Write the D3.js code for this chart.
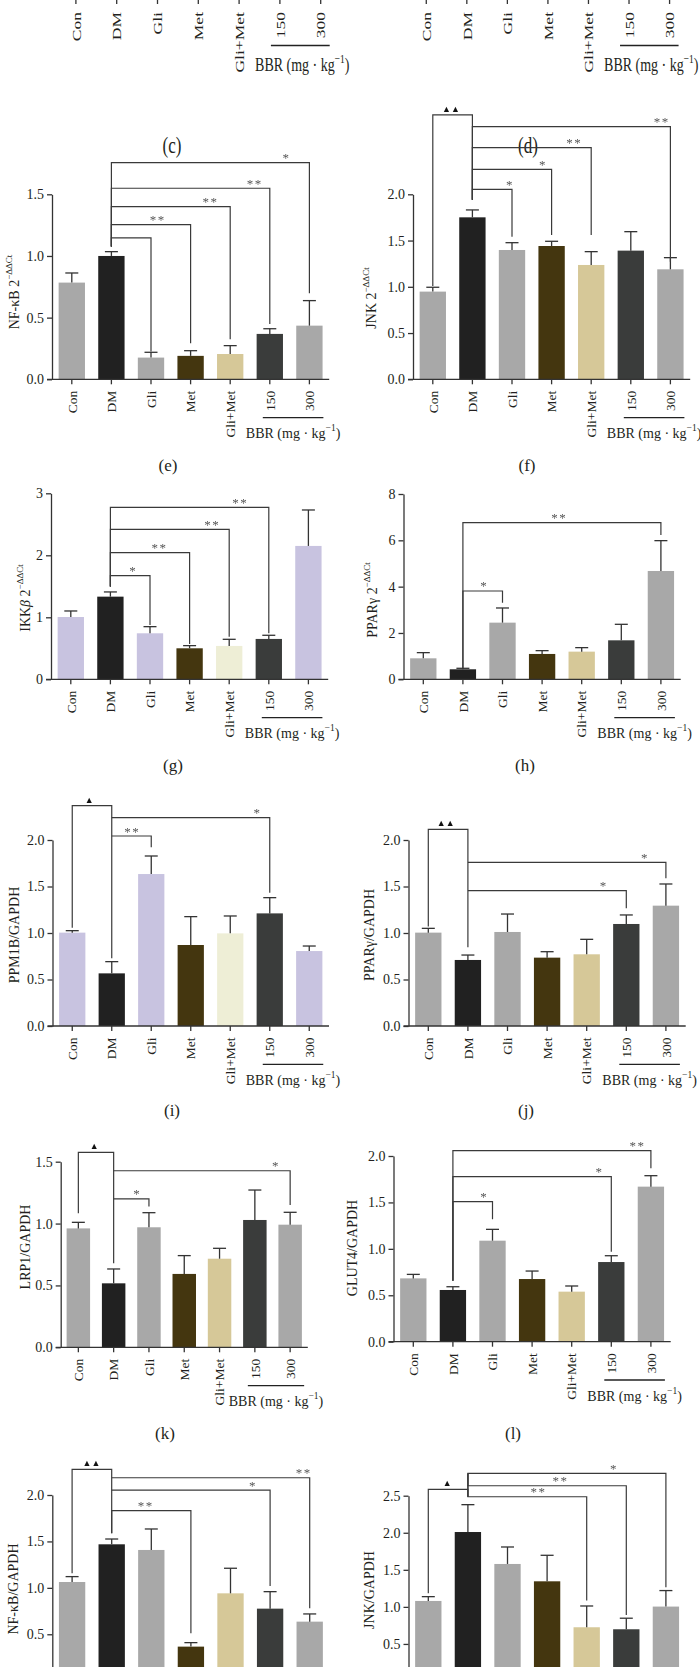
<!DOCTYPE html>
<html><head><meta charset="utf-8">
<script src="https://cdn.jsdelivr.net/npm/d3@7"></script>
<style>
body{margin:0;background:#fff}
svg{display:block}
text{font-family:"Liberation Serif","Times New Roman",serif;fill:#231f20}
</style>
</head><body>
<svg id="fig" width="700" height="1667"></svg>
<script>
// ---------------- DATA ----------------
const categories = ["Con","DM","Gli","Met","Gli+Met","150","300"];

// (e) NF-κB mRNA
const eMean = [0.784, 1.000, 0.176, 0.190, 0.205, 0.368, 0.435];
const eErr  = [0.078, 0.035, 0.043, 0.042, 0.068, 0.042, 0.203];
const eTicks = [0, 0.5, 1.0, 1.5];
// (f) JNK mRNA
const fMean = [0.948, 1.751, 1.398, 1.441, 1.236, 1.391, 1.189];
const fErr  = [0.047, 0.080, 0.079, 0.051, 0.144, 0.205, 0.126];
const fTicks = [0, 0.5, 1.0, 1.5, 2.0];
// (g) IKKβ mRNA
const gMean = [1.005, 1.333, 0.742, 0.500, 0.538, 0.651, 2.151];
const gErr  = [0.097, 0.076, 0.107, 0.043, 0.107, 0.059, 0.580];
const gTicks = [0, 1, 2, 3];
// (h) PPARγ mRNA
const hMean = [0.906, 0.432, 2.446, 1.094, 1.194, 1.683, 4.676];
const hErr  = [0.245, 0.043, 0.633, 0.143, 0.173, 0.691, 1.310];
const hTicks = [0, 2, 4, 6, 8];
// (i) PPM1B/GAPDH
const iMean = [1.004, 0.566, 1.634, 0.871, 0.996, 1.211, 0.806];
const iErr  = [0.021, 0.126, 0.194, 0.305, 0.187, 0.169, 0.054];
const iTicks = [0, 0.5, 1.0, 1.5, 2.0];
// (j) PPARγ/GAPDH
const jMean = [1.004, 0.710, 1.011, 0.735, 0.771, 1.097, 1.294];
const jErr  = [0.046, 0.053, 0.193, 0.064, 0.161, 0.097, 0.233];
const jTicks = [0, 0.5, 1.0, 1.5, 2.0];
// (k) LRP1/GAPDH
const kMean = [0.961, 0.517, 0.970, 0.593, 0.716, 1.029, 0.991];
const kErr  = [0.049, 0.116, 0.118, 0.148, 0.084, 0.242, 0.100];
const kTicks = [0, 0.5, 1.0, 1.5];
// (l) GLUT4/GAPDH
const lMean = [0.682, 0.557, 1.088, 0.675, 0.539, 0.858, 1.670];
const lErr  = [0.043, 0.035, 0.122, 0.086, 0.061, 0.068, 0.118];
const lTicks = [0, 0.5, 1.0, 1.5, 2.0];
// (m) NF-κB/GAPDH
const mMean = [1.063, 1.469, 1.408, 0.367, 0.941, 0.776, 0.636];
const mErr  = [0.058, 0.057, 0.226, 0.043, 0.270, 0.183, 0.083];
const mTicks = [0, 0.5, 1.0, 1.5, 2.0];
// (n) JNK/GAPDH
const nMean = [1.080, 2.010, 1.579, 1.345, 0.725, 0.698, 1.004];
const nErr  = [0.058, 0.369, 0.229, 0.351, 0.287, 0.149, 0.216];
const nTicks = [0, 0.5, 1.0, 1.5, 2.0, 2.5];

// significance brackets: a,b = group indices, level = bracket height (data units),
// aEnd/bEnd = where each leg ends, lab = mark, lx = mark position (group index units)
const eBr = [
  {a:1,b:2,level:1.146,aEnd:1.076,bEnd:0.225,lab:"",lx:1.5},
  {a:1,b:3,level:1.254,aEnd:1.076,bEnd:0.292,lab:"**",lx:2.17},
  {a:1,b:4,level:1.400,aEnd:1.076,bEnd:0.324,lab:"**",lx:3.5},
  {a:1,b:5,level:1.549,aEnd:1.076,bEnd:0.449,lab:"**",lx:4.62},
  {a:1,b:6,level:1.757,aEnd:1.076,bEnd:0.697,lab:"*",lx:5.42}];
const fBr = [
  {a:0,b:1,level:2.858,aEnd:1.010,bEnd:1.940,lab:"▲▲",lx:0.46},
  {a:1,b:6,level:2.732,aEnd:1.940,bEnd:1.272,lab:"**",lx:5.78},
  {a:1,b:4,level:2.505,aEnd:1.940,bEnd:1.560,lab:"**",lx:3.57},
  {a:1,b:3,level:2.270,aEnd:1.940,bEnd:1.560,lab:"*",lx:2.78},
  {a:1,b:2,level:2.054,aEnd:1.940,bEnd:1.542,lab:"*",lx:1.95}];
const gBr = [
  {a:1,b:2,level:1.672,aEnd:1.495,bEnd:0.876,lab:"*",lx:1.58},
  {a:1,b:3,level:2.043,aEnd:1.495,bEnd:0.570,lab:"**",lx:2.24},
  {a:1,b:4,level:2.419,aEnd:1.495,bEnd:0.688,lab:"**",lx:3.57},
  {a:1,b:5,level:2.774,aEnd:1.495,bEnd:0.742,lab:"**",lx:4.28}];
const hBr = [
  {a:1,b:2,level:3.813,aEnd:0.475,bEnd:3.309,lab:"*",lx:1.54},
  {a:1,b:6,level:6.763,aEnd:0.475,bEnd:6.230,lab:"**",lx:3.43}];
const iBr = [
  {a:0,b:1,level:2.369,aEnd:1.057,bEnd:0.728,lab:"▲",lx:0.43},
  {a:1,b:2,level:2.043,aEnd:2.043,bEnd:1.921,lab:"**",lx:1.52},
  {a:1,b:5,level:2.240,aEnd:2.240,bEnd:1.434,lab:"*",lx:4.69}];
const jBr = [
  {a:0,b:1,level:2.115,aEnd:1.070,bEnd:0.846,lab:"▲▲",lx:0.44},
  {a:1,b:5,level:1.455,aEnd:1.455,bEnd:1.265,lab:"*",lx:4.43},
  {a:1,b:6,level:1.760,aEnd:1.760,bEnd:1.588,lab:"*",lx:5.47}];
const kBr = [
  {a:0,b:1,level:1.576,aEnd:1.083,bEnd:0.679,lab:"▲",lx:0.45},
  {a:1,b:2,level:1.199,aEnd:1.199,bEnd:1.137,lab:"*",lx:1.67},
  {a:1,b:6,level:1.427,aEnd:1.427,bEnd:1.150,lab:"*",lx:5.6}];
const lBr = [
  {a:1,b:2,level:1.508,aEnd:0.657,bEnd:1.318,lab:"*",lx:1.79},
  {a:1,b:5,level:1.777,aEnd:0.657,bEnd:0.969,lab:"*",lx:4.7},
  {a:1,b:6,level:2.057,aEnd:0.657,bEnd:1.867,lab:"**",lx:5.66}];
const mBr = [
  {a:0,b:1,level:2.275,aEnd:1.157,bEnd:1.587,lab:"▲▲",lx:0.49},
  {a:1,b:6,level:2.186,aEnd:2.186,bEnd:0.780,lab:"**",lx:5.85},
  {a:1,b:5,level:2.053,aEnd:2.053,bEnd:1.020,lab:"*",lx:4.57},
  {a:1,b:3,level:1.831,aEnd:1.587,bEnd:0.510,lab:"**",lx:1.86}];
const nBr = [
  {a:0,b:1,level:2.585,aEnd:1.183,bEnd:2.486,lab:"▲",lx:0.48},
  {a:1,b:4,level:2.486,aEnd:2.800,bEnd:1.085,lab:"**",lx:2.78},
  {a:1,b:5,level:2.634,aEnd:2.800,bEnd:0.891,lab:"**",lx:3.34},
  {a:1,b:6,level:2.800,aEnd:2.486,bEnd:1.264,lab:"*",lx:4.69}];

// ---------------- STYLE / LAYOUT ----------------
const grayCols = ["#a8a8a8","#212121","#a8a8a8","#44360f","#d6c898","#3a3c3b","#a8a8a8"];
const lavCols  = ["#c8c3e0","#212121","#c8c3e0","#44360f","#eeeed6","#3a3c3b","#c8c3e0"];
const PAGE_H = 1667;

const panels = [
 {tag:"(e)", mean:eMean, err:eErr, ticks:eTicks, br:eBr, cols:grayCols, fmt:".1f",
  ylab:[{t:"NF-κB 2"},{t:"−ΔΔCt",sup:1}],
  L:{x0:52,step:39.6,yZero:379.3,yTop:194.3,labX:14,labY:292,tagX:168,tagY:465}},
 {tag:"(f)", mean:fMean, err:fErr, ticks:fTicks, br:fBr, cols:grayCols, fmt:".1f",
  ylab:[{t:"JNK 2"},{t:"−ΔΔCt",sup:1}],
  L:{x0:413,step:39.6,yZero:379.3,yTop:194.3,labX:371,labY:298,tagX:527,tagY:465}},
 {tag:"(g)", mean:gMean, err:gErr, ticks:gTicks, br:gBr, cols:lavCols, fmt:"d",
  ylab:[{t:"IKK"},{t:"β",it:1},{t:" 2"},{t:"−ΔΔCt",sup:1}],
  L:{x0:51,step:39.6,yZero:679.3,yTop:493.3,labX:25,labY:598,tagX:173,tagY:765}},
 {tag:"(h)", mean:hMean, err:hErr, ticks:hTicks, br:hBr, cols:grayCols, fmt:"d",
  ylab:[{t:"PPARγ 2"},{t:"−ΔΔCt",sup:1}],
  L:{x0:403.5,step:39.6,yZero:679.3,yTop:494,labX:372,labY:600,tagX:525,tagY:765}},
 {tag:"(i)", mean:iMean, err:iErr, ticks:iTicks, br:iBr, cols:lavCols, fmt:".1f",
  ylab:[{t:"PPM1B/GAPDH"}],
  L:{x0:52.5,step:39.5,yZero:1026,yTop:840,labX:14,labY:935,tagX:172,tagY:1110}},
 {tag:"(j)", mean:jMean, err:jErr, ticks:jTicks, br:jBr, cols:grayCols, fmt:".1f",
  ylab:[{t:"PPARγ/GAPDH"}],
  L:{x0:408.5,step:39.6,yZero:1026,yTop:840,labX:369,labY:935,tagX:526,tagY:1110}},
 {tag:"(k)", mean:kMean, err:kErr, ticks:kTicks, br:kBr, cols:grayCols, fmt:".1f",
  ylab:[{t:"LRP1/GAPDH"}],
  L:{x0:60.7,step:35.3,yZero:1347.3,yTop:1161.7,labX:25,labY:1247,tagX:165,tagY:1433}},
 {tag:"(l)", mean:lMean, err:lErr, ticks:lTicks, br:lBr, cols:grayCols, fmt:".1f",
  ylab:[{t:"GLUT4/GAPDH"}],
  L:{x0:393.5,step:39.6,yZero:1341.7,yTop:1156,labX:352,labY:1248,tagX:513,tagY:1433}},
 {tag:"", mean:mMean, err:mErr, ticks:mTicks, br:mBr, cols:grayCols, fmt:".1f",
  ylab:[{t:"NF-κB/GAPDH"}],
  L:{x0:52.3,step:39.6,yZero:1680.7,yTop:1495,labX:13,labY:1589}},
 {tag:"", mean:nMean, err:nErr, ticks:nTicks, br:nBr, cols:grayCols, fmt:".1f",
  ylab:[{t:"JNK/GAPDH"}],
  L:{x0:408.5,step:39.6,yZero:1681,yTop:1495.7,labX:369,labY:1590}}
];
// cut-off panels (c),(d) at the top (vertically stretched in the source): only labels remain
const remnants = [
  {tag:"(c)", L:{x0:55.5,step:40.8,axisY:-4,tick:8,gap:16,stretch:1.3,tagX:172,tagY:145,bbrY:65,lineY:45.5}},
  {tag:"(d)", L:{x0:406,step:40.55,axisY:-4,tick:8,gap:16,stretch:1.3,tagX:528,tagY:145,bbrY:65,lineY:45.5}}
];

// ---------------- DRAW ----------------
const svg = d3.select("#fig");
const INK = "#333";

function styleAxis(sel, fs){
  sel.attr("font-family",'"Liberation Serif","Times New Roman",serif').attr("font-size",fs).attr("color",INK);
  sel.selectAll("path,line").attr("stroke-width",1.3);
  sel.selectAll("text").attr("fill","#231f20");
}

function bbrLabel(g, cx, y, sy){
  const t = g.append("text").attr("transform",`translate(${cx},${y}) scale(1,${sy||1})`)
    .attr("text-anchor","middle").attr("dominant-baseline","central").attr("font-size",14);
  t.append("tspan").text("BBR (mg · kg");
  t.append("tspan").attr("font-size",9.5).attr("dy",-5).text("−1");
  t.append("tspan").attr("dy",5).text(")");
}

function xAxis(g, x, L, yPos, o){
  o = Object.assign({tick:5, gap:11.5, stretch:1, labels:true}, o||{});
  const xa = g.append("g").attr("transform",`translate(0,${yPos})`)
    .call(d3.axisBottom(x).tickSize(o.tick).tickSizeOuter(0));
  xa.select(".domain").remove();
  xa.append("line").attr("x1",L.x0-5).attr("x2",L.x0+categories.length*L.step)
    .attr("stroke","currentColor");
  styleAxis(xa, 13.5);
  if(!o.labels){ xa.selectAll(".tick text").remove(); return xa; }
  xa.selectAll(".tick text").attr("transform",`rotate(-90) scale(${o.stretch},1)`).attr("text-anchor","end")
    .attr("x",-o.gap/o.stretch).attr("y",0).attr("dy","0.35em");
  return xa;
}

function bandFor(L){
  return d3.scaleBand().domain(categories)
    .range([L.x0, L.x0 + categories.length*L.step]).paddingInner(0.335).paddingOuter(0.1675);
}

function drawPanel(P){
  const L = P.L;
  const x = bandFor(L);
  const y = d3.scaleLinear().domain([0, d3.max(P.ticks)]).range([L.yZero, L.yTop]);
  const cx = i => x(categories[i]) + x.bandwidth()/2;
  const g = svg.append("g");
  const axisOnPage = L.yZero < PAGE_H - 10;

  g.selectAll("rect").data(P.mean).join("rect")
    .attr("x",(d,i)=>x(categories[i])).attr("y",d=>y(d))
    .attr("width",x.bandwidth()).attr("height",d=>y(0)-y(d))
    .attr("fill",(d,i)=>P.cols[i]);

  const eb = g.selectAll("g.eb").data(P.mean).join("g").attr("class","eb")
    .attr("stroke",INK).attr("stroke-width",1.3);
  eb.append("line").attr("x1",(d,i)=>cx(i)).attr("x2",(d,i)=>cx(i))
    .attr("y1",d=>y(d)).attr("y2",(d,i)=>y(d+P.err[i]));
  eb.append("line").attr("x1",(d,i)=>cx(i)-6.5).attr("x2",(d,i)=>cx(i)+6.5)
    .attr("y1",(d,i)=>y(d+P.err[i])).attr("y2",(d,i)=>y(d+P.err[i]));

  const ya = g.append("g").attr("transform",`translate(${L.x0},0)`)
    .call(d3.axisLeft(y).tickValues(P.ticks.filter(t=>y(t) < PAGE_H-8)).tickSize(5).tickSizeOuter(0).tickPadding(3)
      .tickFormat(d3.format(P.fmt)));
  styleAxis(ya, 14);

  xAxis(g, x, L, L.yZero, {labels:axisOnPage});

  if(axisOnPage){
    const ux1 = cx(5)-7, ux2 = cx(6)+14;
    g.append("line").attr("x1",ux1).attr("x2",ux2).attr("y1",L.yZero+38.3).attr("y2",L.yZero+38.3)
      .attr("stroke","#222").attr("stroke-width",1.3);
    bbrLabel(g, (ux1+ux2)/2, L.yZero+54);
  }

  const yl = g.append("text").attr("transform",`translate(${L.labX},${L.labY}) rotate(-90)`)
    .attr("text-anchor","middle").attr("dominant-baseline","central").attr("font-size",14);
  P.ylab.forEach(p=>{
    const t = yl.append("tspan").text(p.t);
    if(p.sup) t.attr("font-size",9).attr("dy",-5);
    if(p.it) t.attr("font-style","italic");
  });

  g.selectAll("path.br").data(P.br).join("path").attr("class","br")
    .attr("d",b=>`M${cx(b.a)},${y(b.aEnd)}V${y(b.level)}H${cx(b.b)}V${y(b.bEnd)}`)
    .attr("fill","none").attr("stroke","#3a3a3a").attr("stroke-width",1.2);
  const isTri = b => b.lab.includes("▲");
  g.selectAll("text.mk").data(P.br.filter(b=>b.lab)).join("text").attr("class","mk")
    .attr("x",b=>L.x0 + L.step*(b.lx+0.5))
    .attr("y",b=> isTri(b) ? y(b.level)-3 : y(b.level)-0.5)
    .attr("text-anchor","middle")
    .attr("font-family",b=> isTri(b) ? '"DejaVu Sans",sans-serif' : null)
    .attr("font-size",b=> isTri(b) ? 9 : 13)
    .attr("letter-spacing",b=> isTri(b) ? 0 : 1.5)
    .style("fill",b=> isTri(b) ? "#111" : "#555")
    .style("filter","grayscale(100%)")
    .text(b=>b.lab);

  if(P.tag) g.append("text").attr("x",L.tagX).attr("y",L.tagY).attr("text-anchor","middle")
    .attr("dominant-baseline","central").attr("font-size",17).text(P.tag);
}

function drawRemnant(R){
  const L = R.L;
  const x = bandFor(L);
  const cx = i => x(categories[i]) + x.bandwidth()/2;
  const g = svg.append("g");
  xAxis(g, x, L, L.axisY, {tick:L.tick, gap:L.gap, stretch:L.stretch});
  const ux1 = cx(5)-9, ux2 = cx(6)+9;
  g.append("line").attr("x1",ux1).attr("x2",ux2).attr("y1",L.lineY).attr("y2",L.lineY)
    .attr("stroke","#222").attr("stroke-width",1.3);
  bbrLabel(g, (ux1+ux2)/2 + 2, L.bbrY, 1.3);
  g.append("text").attr("transform",`translate(${L.tagX},${L.tagY}) scale(1,1.35)`).attr("text-anchor","middle")
    .attr("dominant-baseline","central").attr("font-size",17).text(R.tag);
}

remnants.forEach(drawRemnant);
panels.forEach(drawPanel);
</script>
</body></html>
